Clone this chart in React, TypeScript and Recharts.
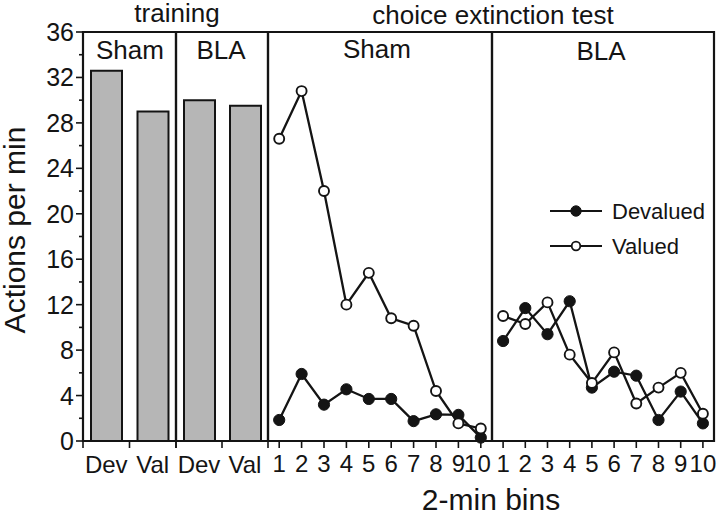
import React from 'react';
import { BarChart, Bar, ComposedChart, Line, XAxis, YAxis, Legend, ReferenceArea } from 'recharts';

// ---- data ----
const trainingLabels = ['Dev', 'Val'];
const shamTraining = [32.6, 29.0];
const blaTraining = [30.0, 29.5];

const bins = ['1', '2', '3', '4', '5', '6', '7', '8', '9', '10'];
const shamDevalued = [1.85, 5.9, 3.2, 4.55, 3.7, 3.7, 1.75, 2.35, 2.3, 0.3];
const shamValued = [26.6, 30.8, 22.0, 12.0, 14.8, 10.8, 10.15, 4.4, 1.55, 1.1];
const blaDevalued = [8.8, 11.7, 9.4, 12.3, 4.7, 6.1, 5.75, 1.85, 4.35, 1.55];
const blaValued = [11.0, 10.3, 12.2, 7.6, 5.1, 7.8, 3.3, 4.7, 6.0, 2.4];

const yTicks = [0, 2, 4, 6, 8, 10, 12, 14, 16, 18, 20, 22, 24, 26, 28, 30, 32, 34, 36];
const yMin = 0;
const yMax = 36;

// ---- styles ----
const FONT = '"Liberation Sans", Arial, Helvetica, sans-serif';
const INK = '#141414';
const H = 515;
const MARGIN_TOP = 32;
const MARGIN_BOTTOM = 34;
const XAXIS_H = 40;

const YTick = (props: any) => {
  const { x, y, payload } = props;
  const v = payload.value;
  const major = v % 4 === 0;
  const len = major ? 7 : 4;
  return (
    <g>
      <path d={`M${x},${y}H${x - len}`} stroke={INK} strokeWidth={1.6} fill="none" />
      {major && (
        <text x={x - 9} y={y} dy="0.36em" textAnchor="end" fontSize={25} fill={INK} fontFamily={FONT}>
          {v}
        </text>
      )}
    </g>
  );
};

const BandTick = (props: any) => {
  const { x, y, payload, index, visibleTicksCount } = props;
  const off = payload && payload.offset != null ? payload.offset : 23;
  const last = index === visibleTicksCount - 1;
  return (
    <g>
      <path d={`M${x - off},${y}V${y + 7}`} stroke={INK} strokeWidth={1.6} fill="none" />
      {last && <path d={`M${x + off},${y}V${y + 7}`} stroke={INK} strokeWidth={1.6} fill="none" />}
      <text x={x} y={y + 32} textAnchor="middle" fontSize={24} fill={INK} fontFamily={FONT}>
        {payload.value}
      </text>
    </g>
  );
};

const BinTick = (props: any) => {
  const { x, y, payload, index, visibleTicksCount, pullLast } = props;
  const last = index === visibleTicksCount - 1;
  const shift = pullLast && last;
  return (
    <g>
      <path d={`M${x},${y}V${y + 7}`} stroke={INK} strokeWidth={1.6} fill="none" />
      <text
        x={shift ? x + 10 : x}
        y={y + 31}
        textAnchor={shift ? 'end' : 'middle'}
        fontSize={24}
        fill={INK}
        fontFamily={FONT}
      >
        {payload.value}
      </text>
    </g>
  );
};

const LegendContent = (props: any) => {
  const payload = props.payload || [];
  return (
    <div style={{ fontFamily: FONT, fontSize: 22, color: INK }}>
      {payload.map((entry: any) => {
        const filled = entry.dataKey === 'dev';
        return (
          <div key={String(entry.value)} style={{ display: 'flex', alignItems: 'center', height: 35 }}>
            <svg width={56} height={20} style={{ display: 'block' }}>
              <line x1={0} x2={52} y1={10} y2={10} stroke={INK} strokeWidth={2} />
              <circle
                cx={26}
                cy={10}
                r={filled ? 5.2 : 4.3}
                fill={filled ? INK : '#fff'}
                stroke={INK}
                strokeWidth={filled ? 1 : 1.8}
              />
            </svg>
            <span style={{ marginLeft: 6, lineHeight: '35px' }}>{entry.value}</span>
          </div>
        );
      })}
    </div>
  );
};

function TrainingPanel({ values, showY, left, width }: any) {
  const data = trainingLabels.map((label, i) => ({ label, value: values[i] }));
  return (
    <div style={{ position: 'absolute', left, top: 0 }}>
      <BarChart
        width={width}
        height={H}
        data={data}
        margin={{ top: MARGIN_TOP, right: 2, bottom: MARGIN_BOTTOM, left: showY ? 0 : 2 }}
      >
        <XAxis
          dataKey="label"
          height={XAXIS_H}
          tickSize={0}
          tickMargin={0}
          tickLine={false}
          axisLine={false}
          interval={0}
          tick={<BandTick />}
        />
        <YAxis
          domain={[yMin, yMax]}
          ticks={yTicks}
          interval={0}
          width={showY ? 83 : 0}
          tickSize={0}
          tickMargin={0}
          tickLine={false}
          axisLine={false}
          tick={showY ? <YTick /> : false}
        />
        <Bar dataKey="value" barSize={31} fill="#b6b6b6" stroke={INK} strokeWidth={2} isAnimationActive={false} />
        <ReferenceArea
          y1={yMin}
          y2={yMax}
          fill="none"
          fillOpacity={0}
          stroke={INK}
          strokeWidth={2.2}
          ifOverflow="visible"
        />
      </BarChart>
    </div>
  );
}

function ExtinctionPanel({ dev, val, left, width, legend, pullLast }: any) {
  const data = bins.map((bin, i) => ({ bin, dev: dev[i], val: val[i] }));
  return (
    <div style={{ position: 'absolute', left, top: 0 }}>
      <ComposedChart
        width={width}
        height={H}
        data={data}
        margin={{ top: MARGIN_TOP, right: 2, bottom: MARGIN_BOTTOM, left: 2 }}
      >
        <XAxis
          dataKey="bin"
          scale="band"
          height={XAXIS_H}
          tickSize={0}
          tickMargin={0}
          tickLine={false}
          axisLine={false}
          interval={0}
          tick={<BinTick pullLast={pullLast} />}
        />
        <YAxis
          domain={[yMin, yMax]}
          ticks={yTicks}
          width={0}
          tick={false}
          tickLine={false}
          axisLine={false}
        />
        <ReferenceArea
          y1={yMin}
          y2={yMax}
          fill="none"
          fillOpacity={0}
          stroke={INK}
          strokeWidth={2.2}
          ifOverflow="visible"
        />
        <Line
          dataKey="dev"
          name="Devalued"
          stroke={INK}
          strokeWidth={2.3}
          dot={{ r: 5.6, fill: INK, stroke: INK, strokeWidth: 1 }}
          activeDot={false}
          isAnimationActive={false}
        />
        <Line
          dataKey="val"
          name="Valued"
          stroke={INK}
          strokeWidth={2.3}
          dot={{ r: 5, fill: '#fff', stroke: INK, strokeWidth: 1.9 }}
          activeDot={false}
          isAnimationActive={false}
        />
        {legend && (
          <Legend
            layout="horizontal"
            verticalAlign="middle"
            align="center"
            content={<LegendContent />}
            wrapperStyle={{ position: 'absolute', left: 60, top: 193.5, width: 'auto', height: 'auto' }}
          />
        )}
      </ComposedChart>
    </div>
  );
}

export default function App() {
  return (
    <div
      style={{
        position: 'absolute',
        left: 0,
        top: 0,
        width: 720,
        height: 515,
        background: '#fff',
        fontFamily: FONT,
        overflow: 'hidden',
      }}
    >
      <style>{'.recharts-surface{overflow:visible}'}</style>
      <TrainingPanel values={shamTraining} showY left={0} width={178} />
      <TrainingPanel values={blaTraining} showY={false} left={174} width={96} />
      <ExtinctionPanel dev={shamDevalued} val={shamValued} left={266} width={228} legend={false} pullLast />
      <ExtinctionPanel dev={blaDevalued} val={blaValued} left={490} width={226} legend pullLast={false} />
      <svg
        width={720}
        height={515}
        style={{ position: 'absolute', left: 0, top: 0, pointerEvents: 'none' }}
        fontFamily={FONT}
      >
        <text x={177} y={22} textAnchor="middle" fontSize={26} fill={INK}>training</text>
        <text x={493} y={24} textAnchor="middle" fontSize={26} fill={INK}>choice extinction test</text>
        <text x={130} y={59} textAnchor="middle" fontSize={26} fill={INK}>Sham</text>
        <text x={221} y={59} textAnchor="middle" fontSize={26} fill={INK}>BLA</text>
        <text x={377} y={58} textAnchor="middle" fontSize={26} fill={INK}>Sham</text>
        <text x={601} y={60} textAnchor="middle" fontSize={26} fill={INK}>BLA</text>
        <text
          x={0}
          y={0}
          transform="translate(25,230) rotate(-90)"
          textAnchor="middle"
          fontSize={30}
          fill={INK}
        >
          Actions per min
        </text>
        <text x={491} y={510} textAnchor="middle" fontSize={30} fill={INK}>2-min bins</text>
      </svg>
    </div>
  );
}
